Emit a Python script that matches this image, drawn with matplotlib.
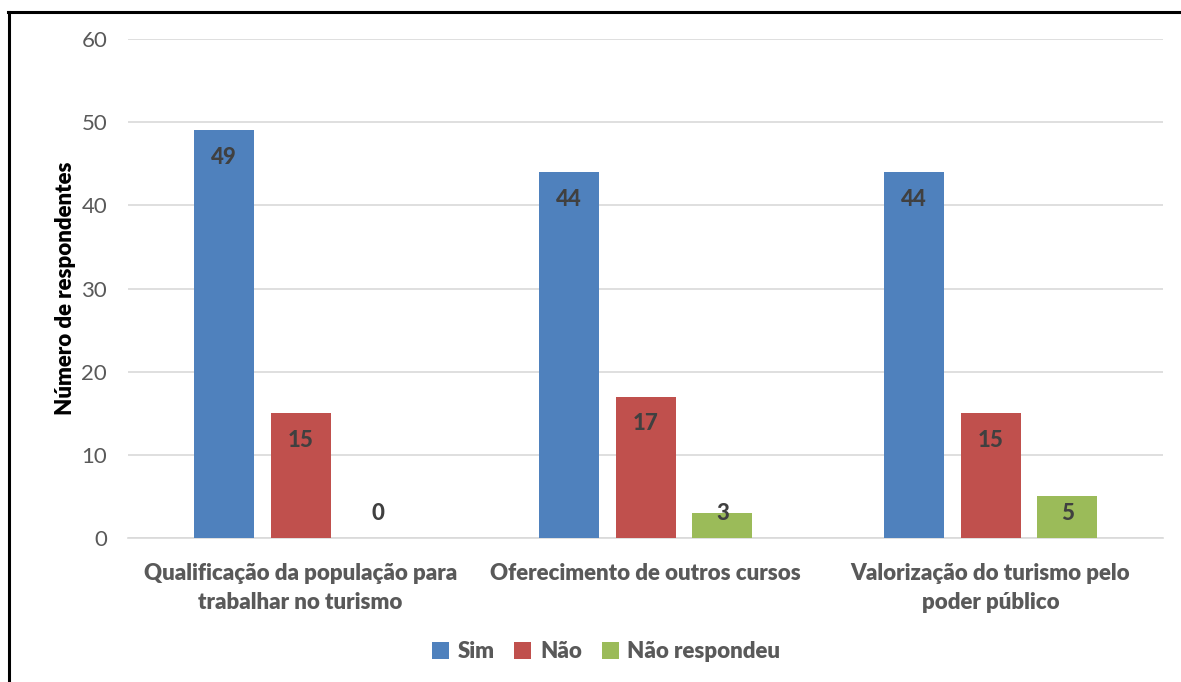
import numpy as np
import matplotlib
matplotlib.use('Agg')
import matplotlib.pyplot as plt

plt.rcParams['font.family'] = ['Lato', 'DejaVu Sans']

categories = ['Qualificação da população para\ntrabalhar no turismo',
              'Oferecimento de outros cursos',
              'Valorização do turismo pelo\npoder público']
sim = [49, 44, 44]
nao = [15, 17, 15]
nao_resp = [0, 3, 5]
series_names = ['Sim', 'Não', 'Não respondeu']
colors = ['#4f81bd', '#c0504d', '#9bbb59']

fig = plt.figure(figsize=(11.81, 6.82), dpi=100)
ax = fig.add_axes([0.1084, 0.2111, 0.8764, 0.7317])

x = np.arange(len(categories))
w = 0.174
offsets = [-0.223, 0.0, 0.223]
for vals, off, c, name in zip([sim, nao, nao_resp], offsets, colors, series_names):
    ax.bar(x + off, vals, width=w, color=c, label=name, zorder=3)
    for xi, v in zip(x + off, vals):
        ax.text(xi, max(v - 3.25, 3.0), str(v), ha='center', va='center',
                fontsize=16, fontweight='black', color='#404040', zorder=4)

ax.set_xlim(-0.5, 2.5)
ax.set_ylim(0, 60)
ax.set_yticks(range(0, 61, 10))
ax.grid(axis='y', color='#d9d9d9', linewidth=1.2, zorder=0)
for s in ['top', 'right', 'left']:
    ax.spines[s].set_visible(False)
ax.spines['bottom'].set_color('#d9d9d9')
ax.spines['bottom'].set_linewidth(1.2)
ax.tick_params(axis='both', length=0, labelsize=16, colors='#595959')
ax.tick_params(axis='y', pad=15)
ax.tick_params(axis='x', pad=18)
ax.set_xticks(x)
ax.set_xticklabels(categories, fontsize=16, fontweight='heavy', color='#595959', linespacing=1.45)
ax.set_ylabel('Número de respondentes', fontsize=16, fontweight='heavy', color='black', labelpad=4)

ax.legend(loc='center', bbox_to_anchor=(0.462, -0.228), ncol=3, frameon=False,
          handlelength=0.75, handleheight=0.75, columnspacing=0.9,
          handletextpad=0.4, prop={'weight': 'heavy', 'size': 16})
for t in ax.get_legend().get_texts():
    t.set_color('#595959')

# outer frame: only top and left lines
fig.add_artist(plt.Line2D([8 / 1181, 1], [1 - 11.5 / 682, 1 - 11.5 / 682], color='black', linewidth=2.2))
fig.add_artist(plt.Line2D([8.5 / 1181, 8.5 / 1181], [0, 1 - 11.5 / 682], color='black', linewidth=2.2))

fig.savefig('out.png', dpi=100)
